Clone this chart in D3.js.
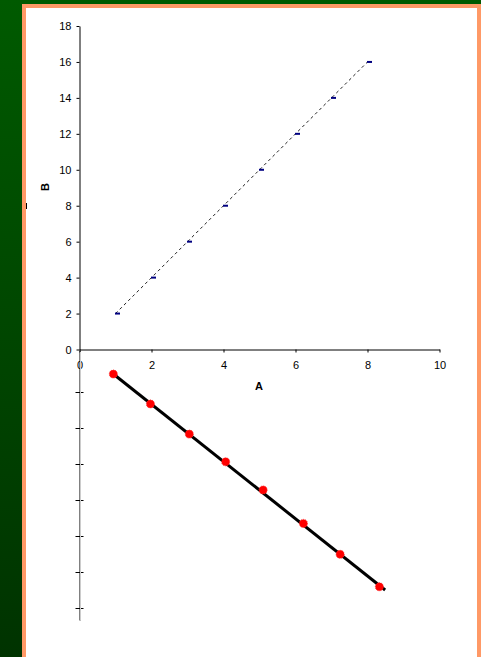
<!DOCTYPE html>
<html>

<head>
  <title>A vs B</title>
  <script src="https://d3js.org/d3.v7.min.js"></script>
  <style>
    body { margin: 0; }
    svg { display: block; }
    .axis text { font-family: "Liberation Sans", Arial, sans-serif; font-size: 11px; fill: #000; }
    .axis path, .axis line { stroke: #000; }
  </style>
</head>

<body>
  <svg id="svg" width="481" height="657"></svg>
  <script>
    // ---- data: upper chart ----
    const aValues = [1, 2, 3, 4, 5, 6, 7, 8];
    const bValues = [2, 4, 6, 8, 10, 12, 14, 16];
    const xTickValues = [0, 2, 4, 6, 8, 10];
    const yTickValues = [0, 2, 4, 6, 8, 10, 12, 14, 16, 18];

    // ---- data: lower chart (same A units) ----
    const lowX = [0.94, 1.97, 3.05, 4.06, 5.10, 6.22, 7.24, 8.33];
    const lowY = [-0.5, -1.33, -2.17, -2.94, -3.72, -4.65, -5.51, -6.41];
    const lowFitX = [0.94, 8.49];
    const lowFitY = [-0.5, -6.5];
    const lowTickValues = [-1, -2, -3, -4, -5, -6, -7];

    const svg = d3.select("#svg");

    // background: green slide, orange frame, white panel
    const defs = svg.append("defs");
    const grad = defs.append("linearGradient").attr("id", "bg")
      .attr("x1", 0).attr("y1", 0).attr("x2", 0).attr("y2", 1);
    grad.append("stop").attr("offset", "0%").attr("stop-color", "#005a00");
    grad.append("stop").attr("offset", "100%").attr("stop-color", "#003300");
    svg.append("rect").attr("width", 481).attr("height", 657).attr("fill", "url(#bg)");
    svg.append("rect").attr("x", 22).attr("y", 4).attr("width", 459).attr("height", 653).attr("fill", "#ff9966");
    svg.append("rect").attr("x", 26).attr("y", 8).attr("width", 451).attr("height", 649).attr("fill", "#fff");
    // stray mark on the frame
    svg.append("line").attr("x1", 26.5).attr("x2", 26.5).attr("y1", 203).attr("y2", 209)
      .attr("stroke", "#000").attr("stroke-width", 1);

    // ************************ Scales ************************
    const x = d3.scaleLinear().domain([0, 10]).range([79.5, 439.5]);
    const y = d3.scaleLinear().domain([0, 18]).range([349.5, 26]);
    const yLow = d3.scaleLinear().domain([0.1667, -7.3333]).range([350, 620]);

    // ************************ Upper axes ************************
    svg.append("g").attr("class", "axis")
      .attr("transform", `translate(${x(0)},0)`)
      .call(d3.axisLeft(y).tickValues(yTickValues).tickSize(3).tickSizeOuter(0).tickPadding(5));

    svg.append("g").attr("class", "axis")
      .attr("transform", `translate(0,${y(0)})`)
      .call(d3.axisBottom(x).tickValues(xTickValues).tickSize(3).tickSizeOuter(0).tickPadding(9));

    svg.append("text").attr("x", 259).attr("y", 390)
      .attr("text-anchor", "middle")
      .style("font-family", "Liberation Sans, Arial, sans-serif")
      .style("font-size", "11px").style("font-weight", "bold")
      .text("A");

    svg.append("text")
      .attr("transform", "translate(49,187) rotate(-90)")
      .attr("text-anchor", "middle")
      .style("font-family", "Liberation Sans, Arial, sans-serif")
      .style("font-size", "11px").style("font-weight", "bold")
      .text("B");

    // dashed trend line + small dash markers
    const upPts = aValues.map((a, i) => ({ a: a, b: bValues[i] }));
    svg.append("path")
      .attr("d", d3.line().x(d => x(d.a)).y(d => y(d.b))([upPts[0], upPts[upPts.length - 1]]))
      .attr("fill", "none").attr("stroke", "#222").attr("stroke-width", 1)
      .attr("stroke-dasharray", "3,3");

    svg.selectAll("rect.mark")
      .data(upPts)
      .join("rect")
      .attr("class", "mark")
      .attr("x", d => x(d.a) - 0.5)
      .attr("y", d => y(d.b) - 1)
      .attr("width", 5).attr("height", 2)
      .attr("fill", "#000080");

    // ************************ Lower chart ************************
    const lowAxis = svg.append("g").attr("class", "axis")
      .attr("transform", `translate(${x(0)},0)`)
      .call(d3.axisLeft(yLow).tickValues(lowTickValues).tickFormat("").tickSizeOuter(0));
    lowAxis.selectAll(".tick line").attr("x1", 4).attr("x2", -4);
    svg.append("line").attr("x1", x(0) + 1).attr("x2", x(0) + 1)
      .attr("y1", 352).attr("y2", 620).attr("stroke", "#ccc");

    svg.append("path")
      .attr("d", d3.line().x(d => x(d[0])).y(d => yLow(d[1]))(lowFitX.map((v, i) => [v, lowFitY[i]])))
      .attr("fill", "none").attr("stroke", "#000").attr("stroke-width", 3);

    svg.selectAll("circle.low")
      .data(lowX.map((v, i) => [v, lowY[i]]))
      .join("circle")
      .attr("class", "low")
      .attr("cx", d => x(d[0]))
      .attr("cy", d => yLow(d[1]))
      .attr("r", 4)
      .attr("fill", "#ff0000")
      .attr("stroke", "#ff2a2a").attr("stroke-width", 1)
      .attr("stroke-dasharray", "1,1");
  </script>

</body>

</html>
